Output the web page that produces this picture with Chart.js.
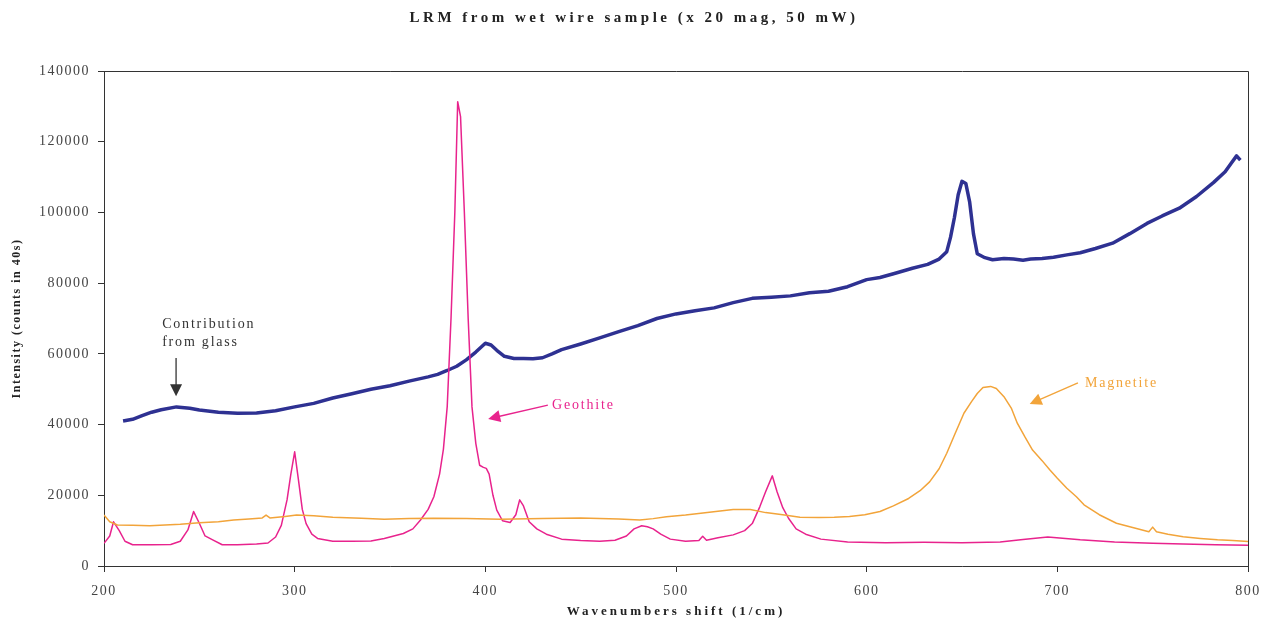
<!DOCTYPE html>
<html>
<head>
<meta charset="utf-8">
<script src="https://cdn.jsdelivr.net/npm/chart.js@4"></script>
<style>
  html, body { margin: 0; padding: 0; background: #fff; }
</style>
</head>
<body>
<canvas id="chart" width="1278" height="626"></canvas>
<script>
// LRM spectrum - wet wire sample

const chartTitle = 'LRM from wet wire sample (x 20 mag, 50 mW)';
const xTitle = 'Wavenumbers shift (1/cm)';
const yTitle = 'Intensity (counts in 40s)';
const xTicks = [200, 300, 400, 500, 600, 700, 800];
const yTicks = [0, 20000, 40000, 60000, 80000, 100000, 120000, 140000];

// glass background (navy)
const glassX = [210,215,220,225,230,238,245,250,260,270,280,290,300,310,320,330,340,350,360,370,375,380,385,390,395,400,403,406,410,415,420,425,430,435,440,450,460,470,480,490,500,510,520,530,540,550,560,570,580,590,600,607,615,624,632,638,642,644,646,648,650,652,654,656,658,662,666,672,677,682,686,692,698,705,712,720,729,738,747,755,764,773,782,788,791,794,796];
const glassY = [41000,41500,42500,43500,44200,45000,44600,44100,43500,43200,43300,43900,45000,46000,47500,48700,50000,51000,52300,53500,54200,55300,56500,58300,60500,63000,62500,61000,59300,58700,58700,58600,58900,60000,61200,62800,64500,66300,68000,70000,71300,72200,73000,74500,75700,76000,76400,77300,77700,79000,81000,81600,82800,84200,85300,86800,88900,93000,98500,105000,108800,108200,103000,94000,88300,87200,86600,87000,86800,86500,86800,87000,87300,88000,88600,89800,91300,94000,96900,99000,101200,104500,108500,111500,113800,116000,114800];

// geothite (magenta)
const geoX = [200,203,205,208,211,215,225,235,240,244,247,250,253,257,262,270,280,286,290,293,296,298,300,302,304,306,309,312,320,330,340,347,352,357,362,366,370,373,376,378,380,382,384,385.5,387,389,391,393,395,397,399,400.5,402,404,406,409,413,416,418,420,423,427,432,440,450,460,468,474,478,482,485,488,492,497,505,512,514,516,522,530,536,540,544,547,550.5,553,556,559,563,568,576,590,610,630,650,670,682,695,712,730,750,766,783,800];
const geoY = [6400,8500,12500,10000,7000,6000,6000,6100,7000,10200,15400,12100,8500,7400,6000,6000,6200,6500,8200,11500,18700,26000,32300,24300,16000,12000,9000,7800,7000,7000,7100,7800,8500,9200,10500,13000,16000,19600,26000,33000,45000,70000,100000,131300,127100,100000,70000,45000,34700,28500,27900,27600,26000,20000,15800,12800,12300,14500,18700,17000,12500,10500,9000,7600,7200,7000,7300,8500,10500,11400,11100,10500,9000,7600,7000,7200,8400,7300,8000,8800,10000,12000,16800,21000,25500,21000,16500,13500,10500,9000,7600,6800,6600,6700,6600,6800,7500,8200,7400,6800,6400,6200,6000,5900,5800];

// magnetite (orange)
const magX = [200,203,207,215,224,240,250,260,268,276,283,285,287,295,301,310,320,335,347,360,373,390,408,430,450,470,481,488,495,505,513,522,530,539,547,556,565,575,583,591,599,607,614,622,628,633,638,642,646,651,655,658,661,665,668,672,676,679,683,687,692,696,700,705,710,714,722,731,740,748,750,752,758,766,775,784,792,800];
const magY = [14400,12500,11600,11500,11400,11800,12200,12500,13000,13300,13600,14400,13600,14000,14400,14200,13800,13500,13200,13400,13500,13400,13200,13400,13600,13300,13000,13400,13900,14400,14900,15500,16000,16000,15100,14500,13800,13700,13800,14000,14500,15400,17000,19100,21300,23800,27500,31900,37000,43200,46500,48800,50500,50800,50200,47900,44500,40400,36500,32800,29800,27200,24800,22000,19600,17300,14500,12100,10800,9700,11000,9700,9000,8300,7800,7400,7200,6900];

const NAVY = '#2e3192';
const MAGENTA = '#e8238d';
const ORANGE = '#f2a43a';
const SERIF = '"Liberation Serif", "DejaVu Serif", serif';

// callouts, in data units
const notes = [
    { lines: ['Contribution', 'from glass'], x: 230.5, y: 68300, color: '#333',
      from: [237.8, 58800], to: [237.8, 48000] },
    { lines: ['Geothite'], x: 435, y: 45500, color: MAGENTA,
      from: [432.8, 45500], to: [401.5, 41600] },
    { lines: ['Magnetite'], x: 714.5, y: 51800, color: ORANGE,
      from: [710.8, 51800], to: [685.5, 45800] }
];

function toPoints(xs, ys) {
    return xs.map((x, i) => ({ x: x, y: ys[i] }));
}

function drawArrow(ctx, x1, y1, x2, y2, color) {
    const ang = Math.atan2(y2 - y1, x2 - x1);
    const len = 12, half = 6;
    ctx.strokeStyle = color;
    ctx.fillStyle = color;
    ctx.lineWidth = 1.3;
    ctx.beginPath();
    ctx.moveTo(x1, y1);
    ctx.lineTo(x2 - Math.cos(ang) * len * 0.8, y2 - Math.sin(ang) * len * 0.8);
    ctx.stroke();
    ctx.beginPath();
    ctx.moveTo(x2, y2);
    ctx.lineTo(x2 - Math.cos(ang) * len - Math.sin(ang) * half, y2 - Math.sin(ang) * len + Math.cos(ang) * half);
    ctx.lineTo(x2 - Math.cos(ang) * len + Math.sin(ang) * half, y2 - Math.sin(ang) * len - Math.cos(ang) * half);
    ctx.closePath();
    ctx.fill();
}

const decorPlugin = {
    id: 'decor',
    beforeDraw(chart) {
        chart.ctx.letterSpacing = '1.5px';
    },
    afterDraw(chart) {
        const ctx = chart.ctx;
        const area = chart.chartArea;
        const xs = chart.scales.x, ys = chart.scales.y;
        ctx.save();

        // frame on top and right
        ctx.strokeStyle = '#333';
        ctx.lineWidth = 1;
        ctx.beginPath();
        ctx.moveTo(area.left, area.top + 0.5);
        ctx.lineTo(area.right + 0.5, area.top + 0.5);
        ctx.lineTo(area.right + 0.5, area.bottom);
        ctx.stroke();

        // title
        ctx.letterSpacing = '3.5px';
        ctx.fillStyle = '#222';
        ctx.font = 'bold 15px ' + SERIF;
        ctx.textAlign = 'center';
        ctx.textBaseline = 'middle';
        ctx.fillText(chartTitle, 634, 18);

        // axis titles
        ctx.letterSpacing = '3px';
        ctx.font = 'bold 13px ' + SERIF;
        ctx.fillText(xTitle, (area.left + area.right) / 2, 612);
        ctx.letterSpacing = '1.5px';
        ctx.font = 'bold 12px ' + SERIF;
        ctx.save();
        ctx.translate(17, (area.top + area.bottom) / 2);
        ctx.rotate(-Math.PI / 2);
        ctx.fillText(yTitle, 0, 0);
        ctx.restore();

        // callouts
        ctx.letterSpacing = '1.8px';
        ctx.font = '14px ' + SERIF;
        ctx.textAlign = 'left';
        notes.forEach(n => {
            ctx.fillStyle = n.color;
            const px = xs.getPixelForValue(n.x);
            const py = ys.getPixelForValue(n.y);
            n.lines.forEach((t, i) => ctx.fillText(t, px, py + i * 18));
            drawArrow(ctx, xs.getPixelForValue(n.from[0]), ys.getPixelForValue(n.from[1]),
                xs.getPixelForValue(n.to[0]), ys.getPixelForValue(n.to[1]), n.color);
        });
        ctx.restore();
    }
};

const ctx = document.getElementById('chart');
new Chart(ctx, {
    type: 'line',
    data: {
        datasets: [
            { label: 'Magnetite', data: toPoints(magX, magY), borderColor: ORANGE, borderWidth: 1.5 },
            { label: 'Geothite', data: toPoints(geoX, geoY), borderColor: MAGENTA, borderWidth: 1.5 },
            { label: 'Glass', data: toPoints(glassX, glassY), borderColor: NAVY, borderWidth: 3.5 }
        ]
    },
    options: {
        responsive: false,
        animation: false,
        devicePixelRatio: 1,
        layout: { padding: { top: 71, right: 30, left: 0, bottom: 0 } },
        elements: {
            point: { radius: 0 },
            line: { tension: 0, borderJoinStyle: 'round' }
        },
        plugins: {
            legend: { display: false },
            tooltip: { enabled: false }
        },
        scales: {
            x: {
                type: 'linear',
                min: 200, max: 800,
                afterBuildTicks: s => { s.ticks = xTicks.map(v => ({ value: v })); },
                afterFit: s => { s.height = 60; },
                ticks: { color: '#444', font: { family: SERIF, size: 14 }, padding: 11, maxRotation: 0 },
                grid: { drawOnChartArea: false, drawTicks: true, tickLength: 6, color: '#333' },
                border: { color: '#333', width: 1 },
                title: { display: false }
            },
            y: {
                min: 0, max: 140000,
                afterBuildTicks: s => { s.ticks = yTicks.map(v => ({ value: v })); },
                afterFit: s => { s.width = 104; },
                ticks: { color: '#444', font: { family: SERIF, size: 14 }, padding: 8, callback: v => String(v) },
                grid: { drawOnChartArea: false, drawTicks: true, tickLength: 6, color: '#333' },
                border: { color: '#333', width: 1 },
                title: { display: false }
            }
        }
    },
    plugins: [decorPlugin]
});
</script>
</body>
</html>
